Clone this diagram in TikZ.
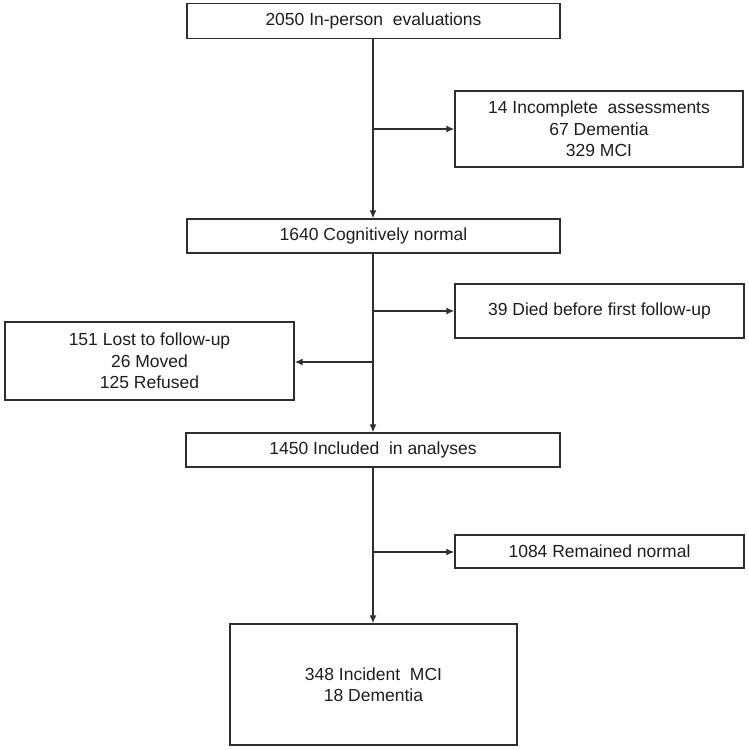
\documentclass[tikz,border=0pt]{standalone}
\usepackage{fontspec}
\setmainfont{Liberation Sans}
\usetikzlibrary{arrows.meta}
\definecolor{lineg}{HTML}{2E2E2E}
\definecolor{textg}{HTML}{1E1E1E}
\begin{document}
\begin{tikzpicture}[x=1pt,y=-1pt,
  box/.style={draw=lineg, line width=1.4pt, fill=white, align=center, text=textg,
    font=\fontsize{17.5}{21.5}\selectfont, inner sep=0pt},
  conn/.style={draw=lineg, line width=1.4pt},
  arr/.style={conn, -{Latex[length=8pt,width=7pt]}}]
\useasboundingbox (0,0) rectangle (748,750);
\node[box, minimum width=373pt, minimum height=35pt] (b1) at (373.5,21) {2050 In-person\ \ evaluations};
\node[box, minimum width=288pt, minimum height=76pt] (b2) at (599,129) {14 Incomplete\ \ assessments\\67 Dementia\\329 MCI};
\node[box, minimum width=373pt, minimum height=34pt] (b3) at (373.5,236) {1640 Cognitively normal};
\node[box, minimum width=289pt, minimum height=54pt] (b4) at (599.5,311) {39 Died before first follow-up};
\node[box, minimum width=289pt, minimum height=78pt] (b5) at (149.5,361) {151 Lost to follow-up\\26 Moved\\125 Refused};
\node[box, minimum width=374pt, minimum height=34pt] (b6) at (373,450) {1450 Included\ \ in analyses};
\node[box, minimum width=289pt, minimum height=33pt] (b7) at (599.5,551.5) {1084 Remained normal};
\node[box, minimum width=287pt, minimum height=121pt] (b8) at (373.5,684.5) {348 Incident\ \ MCI\\18 Dementia};
\coordinate (j1) at (373,129);
\coordinate (j2) at (373,311);
\coordinate (j3) at (373,362);
\coordinate (j4) at (373,552);
\draw[arr] (b1.south -| j1) -- (b3.north -| j1);
\draw[arr] (j1) -- (j1 -| b2.west);
\draw[arr] (b3.south -| j2) -- (b6.north -| j2);
\draw[arr] (j2) -- (j2 -| b4.west);
\draw[arr] (j3) -- (j3 -| b5.east);
\draw[arr] (b6.south -| j4) -- (b8.north -| j4);
\draw[arr] (j4) -- (j4 -| b7.west);
\end{tikzpicture}
\end{document}
